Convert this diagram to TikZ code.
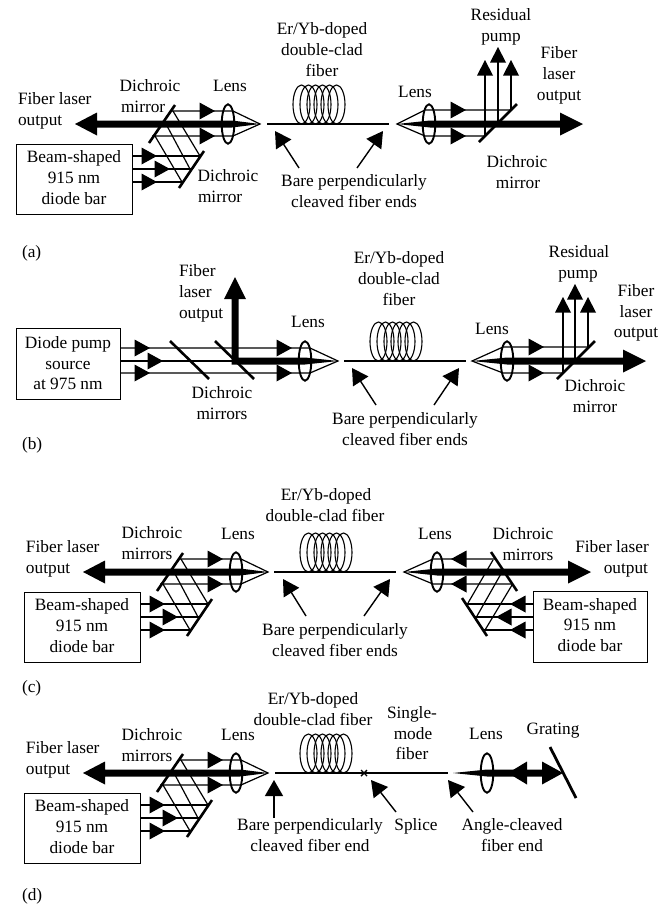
\documentclass[tikz,border=0pt]{standalone}
\usepackage{fontspec}
\setmainfont{Liberation Serif}
\usetikzlibrary{arrows.meta}
\tikzset{
  lbl/.style={inner sep=0pt,outer sep=0pt,text height=11pt,text depth=4pt,font=\fontsize{17.3}{21}\selectfont},
  ray/.style={line width=1.2pt},
  mirror/.style={line width=2.6pt},
  lens/.style={line width=1.9pt},
  fibre/.style={line width=1.4pt},
  loopline/.style={line width=1.1pt},
  boxed/.style={draw,line width=1pt},
  pointer/.style={line width=1.4pt,-{Triangle[length=16pt,width=18pt]},shorten >=0pt}
}
% text node: name, x, y, text
\newcommand{\T}[4]{\node[lbl] (#1) at (#2,#3) {#4};}
\newcommand{\TL}[4]{\node[lbl,anchor=west] (#1) at (#2,#3) {#4};}
% ray arrowheads: tip x, y (right, left) ; x, tip y (up)
\newcommand{\hr}[2]{\fill (#1,#2) -- (#1-15.5,#2-8.5) -- (#1-15.5,#2+8.5) -- cycle;}
\newcommand{\hl}[2]{\fill (#1,#2) -- (#1+15.5,#2-8.5) -- (#1+15.5,#2+8.5) -- cycle;}
\newcommand{\hu}[2]{\fill (#1,#2) -- (#1-8,#2+15.5) -- (#1+8,#2+15.5) -- cycle;}
% lens centred x,y
\newcommand{\lenspart}[2]{\draw[lens] (#1,#2) ellipse [x radius=6.3,y radius=19.7];}
% coil: left x, bottom y
\newcommand{\coil}[2]{\foreach \k in {0,...,5}{\draw[loopline] (#1+8.5+7*\k,#2-19.5) ellipse [x radius=8.5,y radius=19.5];}}
% left-hand pump module of (a), (c), (d)
\newcommand{\leftmodule}{
  \fill (75,124) -- (97,112.5) -- (97,120.5) -- (232,120.5) -- (260,124) -- (232,127.5) -- (97,127.5) -- (97,135.5) -- cycle;
  \draw[mirror] (175,105) -- (149,143);
  \draw[mirror] (204,151) -- (179,188);
  \draw[ray] (172,111) -- (233,111) -- (260,124) -- (233,136) -- (152,136);
  \draw[ray] (173,111) -- (200,156);
  \draw[ray] (166,124) -- (190,169);
  \draw[ray] (155,136) -- (182,182);
  \hr{215}{111} \hr{215}{136}
  \draw[ray] (132,156) -- (201,156);
  \draw[ray] (132,169) -- (192,169);
  \draw[ray] (132,182) -- (182,182);
  \hr{157}{156} \hr{170}{169} \hr{157}{182}
  \lenspart{228}{124}
  \draw[boxed] (16,144) rectangle (132,214);
  \T{bs1}{74}{159}{Beam-shaped}
  \T{bs2}{74}{180}{915 nm}
  \T{bs3}{74}{201}{diode bar}
  \TL{fl1}{18}{101}{Fiber laser}
  \TL{fl2}{18}{122}{output}
}
\begin{document}
\begin{tikzpicture}[x=1pt,y=-1pt]
\useasboundingbox (0,0) rectangle (666,906);
% ---------- (a)
\begin{scope}[name prefix=a-]
\leftmodule
\T{dm1}{150}{88}{Dichroic}
\TL{dm2}{121}{109}{mirror}
\T{ln1}{230}{88}{Lens}
\T{dm3}{228}{178}{Dichroic}
\TL{dm4}{198}{199}{mirror}
\T{er1}{322}{31}{Er/Yb-doped}
\T{er2}{322}{52}{double-clad}
\T{er3}{322}{73}{fiber}
\coil{293}{124}
\draw[fibre] (267,124) -- (389,124);
\T{bp1}{354}{183}{Bare perpendicularly}
\T{bp2}{354}{204}{cleaved fiber ends}
\draw[pointer] (299,168) -- (275,131);
\draw[pointer] (357,168) -- (383,131);
% right
\fill (397,124) -- (430,120.5) -- (560,120.5) -- (560,112.5) -- (583,124) -- (560,135.5) -- (560,127.5) -- (430,127.5) -- cycle;
\draw[ray] (512,110) -- (425,110) -- (397,124) -- (425,136) -- (485,136);
\hr{466}{110} \hr{466}{136}
\lenspart{429}{124}
\draw[mirror] (479,142) -- (517,104);
\draw[ray] (485,136) -- (485,70); \hu{485}{60}
\draw[ray] (498,124) -- (498,57); \hu{498}{47}
\draw[ray] (511,110) -- (511,70); \hu{511}{60}
\T{rp1}{501}{17}{Residual}
\T{rp2}{501}{38}{pump}
\T{fo1}{559}{55}{Fiber}
\T{fo2}{559}{76}{laser}
\T{fo3}{559}{97}{output}
\T{ln2}{415}{94}{Lens}
\T{dm5}{517}{164}{Dichroic}
\T{dm6}{518}{185}{mirror}
\TL{tag}{22}{254}{(a)}
\end{scope}
% ---------- (b)
\begin{scope}[name prefix=b-]
\draw[boxed] (16,328) rectangle (120,399);
\T{ds1}{68}{345}{Diode pump}
\T{ds2}{68}{366}{source}
\T{ds3}{68}{386}{at 975 nm}
\draw[ray] (120,348) -- (310,348) -- (338,361) -- (310,373) -- (120,373);
\draw[ray] (120,361) -- (240,361);
\hr{150}{348} \hr{163}{361} \hr{150}{373}
\hr{292}{348} \hr{292}{373}
\draw[mirror] (170,341) -- (209,379);
\draw[mirror] (215,341) -- (254,379);
\fill (338,361) -- (305,364.5) -- (231.5,364.5) -- (231.5,299) -- (224,299) -- (235,277) -- (246,299) -- (238.5,299) -- (238.5,357.5) -- (305,357.5) -- cycle;
\lenspart{305}{361}
\TL{fo1}{179}{273}{Fiber}
\TL{fo2}{179}{294}{laser}
\TL{fo3}{179}{315}{output}
\T{ln1}{308}{324}{Lens}
\T{dm1}{222}{395}{Dichroic}
\T{dm2}{222}{416}{mirrors}
\T{er1}{399}{260}{Er/Yb-doped}
\T{er2}{399}{281}{double-clad}
\T{er3}{399}{302}{fiber}
\coil{370}{361}
\draw[fibre] (344,361) -- (466,361);
\draw[pointer] (376,405) -- (352,368);
\draw[pointer] (434,405) -- (459,368);
\T{bp1}{405}{421}{Bare perpendicularly}
\T{bp2}{405}{442}{cleaved fiber ends}
\fill (472,361) -- (507,357.5) -- (623,357.5) -- (623,349.5) -- (646,361) -- (623,372.5) -- (623,364.5) -- (507,364.5) -- cycle;
\draw[ray] (588,347) -- (503,347) -- (472,361) -- (503,373) -- (563,373);
\hr{544}{347} \hr{544}{373}
\lenspart{507}{361}
\draw[mirror] (557,379) -- (595,341);
\draw[ray] (563,373) -- (563,307); \hu{563}{297}
\draw[ray] (575,361) -- (575,294); \hu{575}{284}
\draw[ray] (588,347) -- (588,307); \hu{588}{297}
\T{rp1}{579}{254}{Residual}
\T{rp2}{578}{275}{pump}
\T{fo4}{636}{293}{Fiber}
\T{fo5}{636}{314}{laser}
\T{fo6}{636}{334}{output}
\T{ln2}{492}{331}{Lens}
\T{dm3}{595}{388}{Dichroic}
\T{dm4}{595}{409}{mirror}
\TL{tag}{22}{446}{(b)}
\end{scope}
% ---------- (c)
\begin{scope}[name prefix=c-,shift={(8,448)}]
\leftmodule
\end{scope}
\begin{scope}[name prefix=c-]
\T{dm1}{152}{535}{Dichroic}
\T{dm2}{147}{556}{mirrors}
\T{ln1}{238}{536}{Lens}
\T{er1}{326}{497}{Er/Yb-doped}
\T{er2}{325}{518}{double-clad fiber}
\coil{300}{572}
\draw[fibre] (274,572) -- (396,572);
\draw[pointer] (306,616) -- (283,579);
\draw[pointer] (364,616) -- (390,579);
\T{bp1}{335}{632}{Bare perpendicularly}
\T{bp2}{335}{653}{cleaved fiber ends}
% right
\fill (404,572) -- (437,568.5) -- (568,568.5) -- (568,560.5) -- (591,572) -- (568,583.5) -- (568,575.5) -- (437,575.5) -- cycle;
\draw[mirror] (491,552) -- (517,591);
\draw[mirror] (462,598) -- (487,636);
\draw[ray] (496,559) -- (433,559) -- (404,572) -- (433,584) -- (512,584);
\draw[ray] (493,560) -- (468,603);
\draw[ray] (502,572) -- (477,616);
\draw[ray] (512,585) -- (485,630);
\hl{451}{559} \hl{451}{584}
\lenspart{437}{572}
\draw[ray] (533,604) -- (466,604);
\draw[ray] (533,617) -- (475,617);
\draw[ray] (533,630) -- (483,630);
\hl{510}{604} \hl{496}{617} \hl{510}{630}
\draw[boxed] (533,591) rectangle (647,662);
\T{bs4}{590}{607}{Beam-shaped}
\T{bs5}{590}{627}{915 nm}
\T{bs6}{590}{648}{diode bar}
\T{ln2}{435}{536}{Lens}
\T{dm3}{523}{536}{Dichroic}
\T{dm4}{528}{557}{mirrors}
\T{fo1}{612}{549}{Fiber laser}
\node[lbl,anchor=east] (fo2) at (648,570) {output};
\TL{tag}{22}{689}{(c)}
\end{scope}
% ---------- (d)
\begin{scope}[name prefix=d-,shift={(8,649)}]
\leftmodule
\end{scope}
\begin{scope}[name prefix=d-]
\T{dm1}{152}{737}{Dichroic}
\T{dm2}{147}{758}{mirrors}
\T{ln1}{238}{737}{Lens}
\T{er1}{313}{701}{Er/Yb-doped}
\T{er2}{313}{722}{double-clad fiber}
\coil{300}{773}
\draw[fibre] (275,773) -- (448,773);
\draw[line width=1.4pt] (361,770) -- (367,776) (361,776) -- (367,770);
\draw[pointer] (274,818) -- (274,780);
\draw[pointer] (396,812) -- (371,780);
\draw[pointer] (473,812) -- (448,780);
\T{bp1}{310}{827}{Bare perpendicularly}
\T{bp2}{310}{848}{cleaved fiber end}
\T{sp}{416}{827}{Splice}
\T{ac1}{512}{827}{Angle-cleaved}
\T{ac2}{512}{848}{fiber end}
\T{sm1}{412}{715}{Single-}
\T{sm2}{413}{736}{mode}
\T{sm3}{412}{756}{fiber}
\T{ln2}{486}{736}{Lens}
\T{gr}{553}{731}{Grating}
\fill (453,773) -- (487,769.5) -- (545,769.5) -- (545,776.5) -- (487,776.5) -- cycle;
\fill (508,773) -- (527,761.5) -- (527,784.5) -- cycle;
\fill (563,773) -- (542,761.5) -- (542,784.5) -- cycle;
\lenspart{487}{773}
\draw[line width=2.8pt] (550,747) -- (576,798);
\TL{tag}{22}{897}{(d)}
\end{scope}
\end{tikzpicture}
\end{document}
